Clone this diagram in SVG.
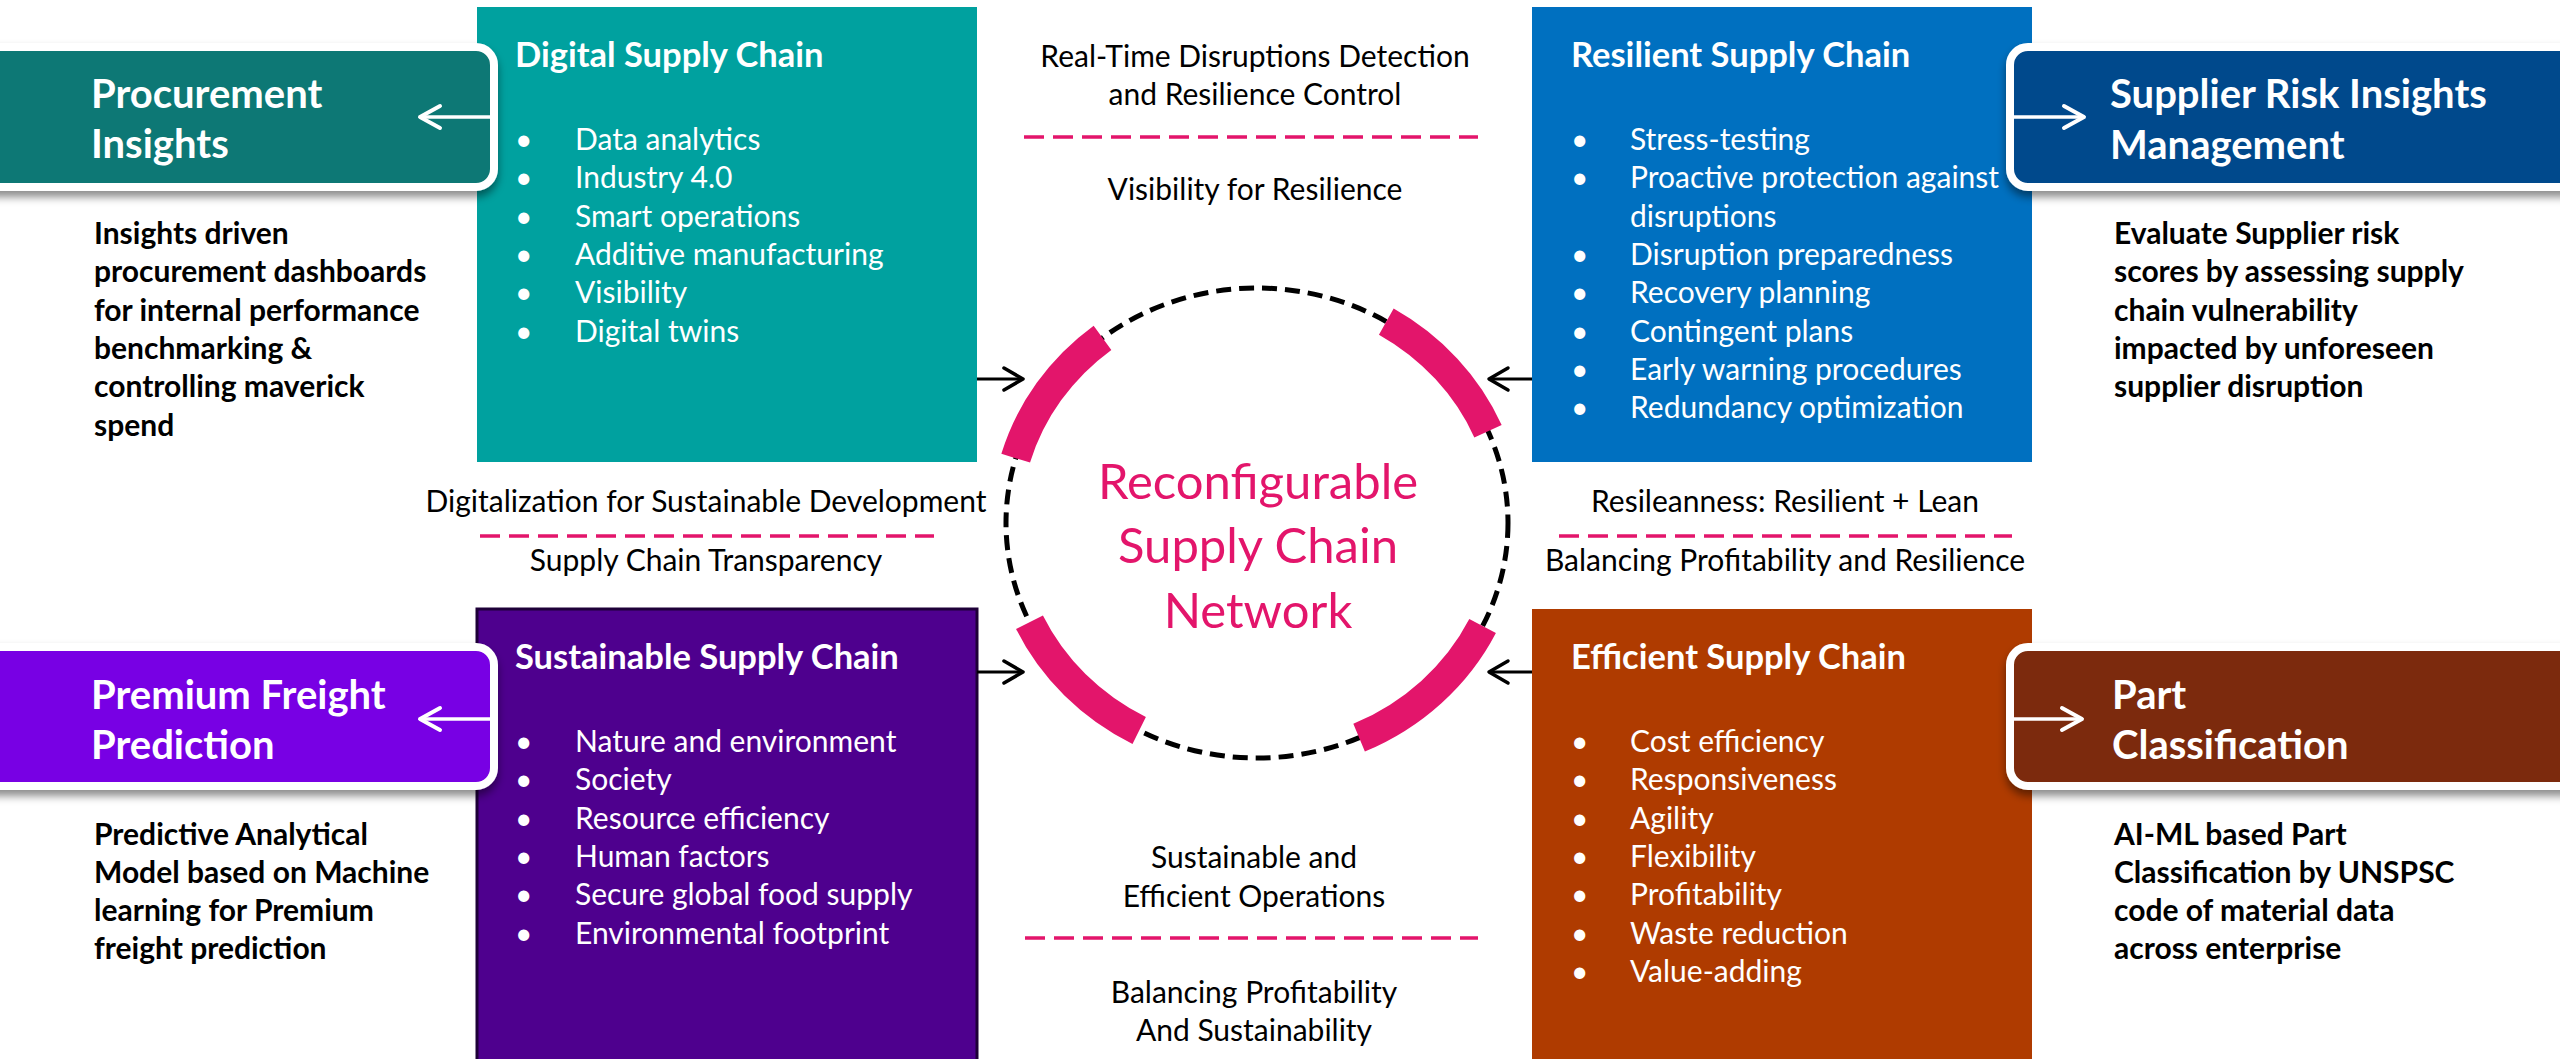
<svg xmlns="http://www.w3.org/2000/svg" width="2560" height="1059" viewBox="0 0 2560 1059">
<style>
text { font-family: Lato, "Liberation Sans", "DejaVu Sans", sans-serif; }
.title { font-weight: 700; font-size: 34.5px; fill: #ffffff; }
.item { font-weight: 400; font-size: 30px; fill: #ffffff; }
.ctitle { font-weight: 700; font-size: 40px; fill: #ffffff; }
.desc { font-weight: 700; font-size: 30px; fill: #000000; }
.lbl { font-weight: 400; font-size: 30px; fill: #000000; text-anchor: middle; }
.center { font-weight: 400; font-size: 49px; fill: #E3156B; text-anchor: middle; }
.pdash { stroke: #E3156B; stroke-width: 3.5; stroke-dasharray: 20 9; fill: none; }
.conn { stroke: #000000; stroke-width: 3; fill: none; marker-end: url(#ahb); }
.wconn { stroke: #ffffff; stroke-width: 3.5; fill: none; marker-end: url(#ahw); }
.callout { stroke: #ffffff; stroke-width: 8; filter: url(#sh); }
.arc { stroke: #E3156B; stroke-width: 30; fill: none; stroke-linecap: butt; }
</style>
<defs>
<filter id="sh" x="-10%" y="-20%" width="120%" height="160%">
<feDropShadow dx="0" dy="6" stdDeviation="4" flood-color="#000000" flood-opacity="0.45"/>
</filter>
<marker id="ahb" markerUnits="userSpaceOnUse" viewBox="-24 -14 28 28" refX="0" refY="0" markerWidth="28" markerHeight="28" orient="auto" overflow="visible">
<path d="M-19,-11 L0,0 L-19,11" fill="none" stroke="#000000" stroke-width="3.5" stroke-linecap="round" stroke-linejoin="round"/>
</marker>
<marker id="ahw" markerUnits="userSpaceOnUse" viewBox="-24 -14 28 28" refX="0" refY="0" markerWidth="28" markerHeight="28" orient="auto" overflow="visible">
<path d="M-20,-11 L0,0 L-20,11" fill="none" stroke="#ffffff" stroke-width="4" stroke-linecap="round" stroke-linejoin="round"/>
</marker>
</defs>
<rect x="0" y="0" width="2560" height="1059" fill="#ffffff"/>

<g id="digital-supply-chain">
<rect x="477" y="7" width="500" height="455" fill="#00A19F"/>
<text class="title" x="515" y="67">Digital Supply Chain</text>
<text class="item" x="515" y="150">•</text><text class="item" x="575" y="150">Data analytics</text>
<text class="item" x="515" y="188">•</text><text class="item" x="575" y="188">Industry 4.0</text>
<text class="item" x="515" y="227">•</text><text class="item" x="575" y="227">Smart operations</text>
<text class="item" x="515" y="265">•</text><text class="item" x="575" y="265">Additive manufacturing</text>
<text class="item" x="515" y="303">•</text><text class="item" x="575" y="303">Visibility</text>
<text class="item" x="515" y="342">•</text><text class="item" x="575" y="342">Digital twins</text>
</g>

<g id="resilient-supply-chain">
<rect x="1532" y="7" width="500" height="455" fill="#0070C0"/>
<text class="title" x="1571" y="67">Resilient Supply Chain</text>
<text class="item" x="1571" y="150">•</text><text class="item" x="1630" y="150">Stress-testing</text>
<text class="item" x="1571" y="188">•</text><text class="item" x="1630" y="188">Proactive protection against</text>
<text class="item" x="1630" y="227">disruptions</text>
<text class="item" x="1571" y="265">•</text><text class="item" x="1630" y="265">Disruption preparedness</text>
<text class="item" x="1571" y="303">•</text><text class="item" x="1630" y="303">Recovery planning</text>
<text class="item" x="1571" y="342">•</text><text class="item" x="1630" y="342">Contingent plans</text>
<text class="item" x="1571" y="380">•</text><text class="item" x="1630" y="380">Early warning procedures</text>
<text class="item" x="1571" y="418">•</text><text class="item" x="1630" y="418">Redundancy optimization</text>
</g>

<g id="sustainable-supply-chain">
<rect x="477" y="609" width="500" height="470" fill="#4E008E" stroke="#1E0038" stroke-width="3"/>
<text class="title" x="515" y="669">Sustainable Supply Chain</text>
<text class="item" x="515" y="752">•</text><text class="item" x="575" y="752">Nature and environment</text>
<text class="item" x="515" y="790">•</text><text class="item" x="575" y="790">Society</text>
<text class="item" x="515" y="829">•</text><text class="item" x="575" y="829">Resource efficiency</text>
<text class="item" x="515" y="867">•</text><text class="item" x="575" y="867">Human factors</text>
<text class="item" x="515" y="905">•</text><text class="item" x="575" y="905">Secure global food supply</text>
<text class="item" x="515" y="944">•</text><text class="item" x="575" y="944">Environmental footprint</text>
</g>

<g id="efficient-supply-chain">
<rect x="1532" y="609" width="500" height="470" fill="#AF3B00"/>
<text class="title" x="1571" y="669">Efficient Supply Chain</text>
<text class="item" x="1571" y="752">•</text><text class="item" x="1630" y="752">Cost efficiency</text>
<text class="item" x="1571" y="790">•</text><text class="item" x="1630" y="790">Responsiveness</text>
<text class="item" x="1571" y="829">•</text><text class="item" x="1630" y="829">Agility</text>
<text class="item" x="1571" y="867">•</text><text class="item" x="1630" y="867">Flexibility</text>
<text class="item" x="1571" y="905">•</text><text class="item" x="1630" y="905">Profitability</text>
<text class="item" x="1571" y="944">•</text><text class="item" x="1630" y="944">Waste reduction</text>
<text class="item" x="1571" y="982">•</text><text class="item" x="1630" y="982">Value-adding</text>
</g>

<g id="procurement-insights">
<rect class="callout" x="-30" y="47" width="524" height="140" rx="18" fill="#0E7874"/>
<text class="ctitle" x="91" y="108">Procurement</text>
<text class="ctitle" x="91" y="158">Insights</text>
<text class="desc" x="94" y="244">Insights driven</text>
<text class="desc" x="94" y="282">procurement dashboards</text>
<text class="desc" x="94" y="321">for internal performance</text>
<text class="desc" x="94" y="359">benchmarking &amp;</text>
<text class="desc" x="94" y="397">controlling maverick</text>
<text class="desc" x="94" y="436">spend</text>
</g>

<g id="supplier-risk-insights-management">
<rect class="callout" x="2010" y="47" width="600" height="140" rx="18" fill="#034A8C"/>
<text class="ctitle" x="2110" y="108">Supplier Risk Insights</text>
<text class="ctitle" x="2110" y="159">Management</text>
<text class="desc" x="2114" y="244">Evaluate Supplier risk</text>
<text class="desc" x="2114" y="282">scores by assessing supply</text>
<text class="desc" x="2114" y="321">chain vulnerability</text>
<text class="desc" x="2114" y="359">impacted by unforeseen</text>
<text class="desc" x="2114" y="397">supplier disruption</text>
</g>

<g id="premium-freight-prediction">
<rect class="callout" x="-30" y="647" width="524" height="139" rx="18" fill="#7800E4"/>
<text class="ctitle" x="91" y="709">Premium Freight</text>
<text class="ctitle" x="91" y="759">Prediction</text>
<text class="desc" x="94" y="845">Predictive Analytical</text>
<text class="desc" x="94" y="883">Model based on Machine</text>
<text class="desc" x="94" y="921">learning for Premium</text>
<text class="desc" x="94" y="959">freight prediction</text>
</g>

<g id="part-classification">
<rect class="callout" x="2010" y="647" width="600" height="139" rx="18" fill="#7B2B0B"/>
<text class="ctitle" x="2112" y="709">Part</text>
<text class="ctitle" x="2112" y="759">Classification</text>
<text class="desc" x="2114" y="845">AI-ML based Part</text>
<text class="desc" x="2114" y="883">Classification by UNSPSC</text>
<text class="desc" x="2114" y="921">code of material data</text>
<text class="desc" x="2114" y="959">across enterprise</text>
</g>

<g id="reconfigurable-supply-chain-network">
<ellipse cx="1257" cy="523" rx="251" ry="235" fill="none" stroke="#000000" stroke-width="5" stroke-dasharray="15 8"/>
<path class="arc" d="M1015.7,458.2 A251,235 0 0 1 1102.5,337.8"/>
<path class="arc" d="M1386.3,321.6 A251,235 0 0 1 1488.0,431.2"/>
<path class="arc" d="M1139.2,730.5 A251,235 0 0 1 1029.5,622.3"/>
<path class="arc" d="M1482.6,626.0 A251,235 0 0 1 1359.1,737.7"/>
<text class="center" x="1258" y="499">Reconfigurable</text>
<text class="center" x="1258" y="563">Supply Chain</text>
<text class="center" x="1258" y="628">Network</text>
</g>

<g id="labels">
<g id="label-top">
<text class="lbl" x="1255" y="67">Real-Time Disruptions Detection</text>
<text class="lbl" x="1255" y="105">and Resilience Control</text>
<line class="pdash" x1="1024" y1="137" x2="1478" y2="137"/>
<text class="lbl" x="1255" y="200">Visibility for Resilience</text>
</g>
<g id="label-left">
<text class="lbl" x="706" y="512">Digitalization for Sustainable Development</text>
<line class="pdash" x1="480" y1="536" x2="934" y2="536"/>
<text class="lbl" x="706" y="571">Supply Chain Transparency</text>
</g>
<g id="label-right">
<text class="lbl" x="1785" y="512">Resileanness: Resilient + Lean</text>
<line class="pdash" x1="1559" y1="536" x2="2012" y2="536"/>
<text class="lbl" x="1785" y="571">Balancing Profitability and Resilience</text>
</g>
<g id="label-bottom">
<text class="lbl" x="1254" y="868">Sustainable and</text>
<text class="lbl" x="1254" y="907">Efficient Operations</text>
<line class="pdash" x1="1025" y1="938" x2="1478" y2="938"/>
<text class="lbl" x="1254" y="1003">Balancing Profitability</text>
<text class="lbl" x="1254" y="1041">And Sustainability</text>
</g>
</g>

<g id="connectors">
<path class="conn" d="M977,379 L1023,379"/>
<path class="conn" d="M977,672 L1023,672"/>
<path class="conn" d="M1532,379 L1489,379"/>
<path class="conn" d="M1532,672 L1489,672"/>
<path class="wconn" d="M492,117 L420,117"/>
<path class="wconn" d="M492,719 L420,719"/>
<path class="wconn" d="M2008,117 L2084,117"/>
<path class="wconn" d="M2008,719 L2082,719"/>
</g>
</svg>
